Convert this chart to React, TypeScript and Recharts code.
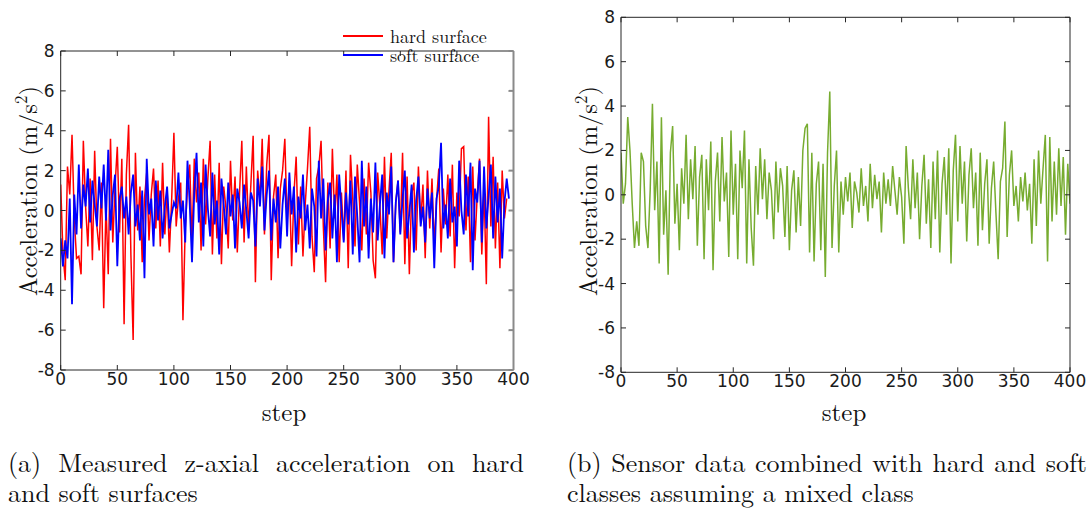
import { LineChart, Line, XAxis, YAxis, Legend } from "recharts";

// sampled every 2 steps
const STEP = 2;

const hardSurface = [
  1.3, -2.2, -3.5, 2.2, 0.8, 3.8, -0.4, -2.4, -2.3, -3.2,
  3.5, 0.2, -1.8, 1.6, -2.5, 3.0, -0.8, -2.0, 1.4, -4.9,
  0.3, -3.2, 3.6, -1.6, 1.2, 3.2, -1.1, 2.6, -5.7, 1.8,
  4.3, -2.2, -6.5, 2.9, -1.0, 1.2, -2.6, 0.6, 1.9, -1.5,
  0.8, 2.1, -0.9, 1.5, -1.8, 2.4, -1.2, 1.0, -2.1, 0.5,
  3.9, -0.8, 0.6, 1.4, -5.5, -0.9, 1.1, 2.3, -1.7, 2.6,
  0.4, 1.9, -2.0, 2.6, -0.7, 1.6, 3.5, -2.2, 1.8, -1.4,
  2.4, -2.7, 1.2, 0.1, -1.9, 2.5, -0.5, 1.7, -2.1, 0.9,
  3.5, -1.6, 2.2, -0.9, 1.3, 3.75, -3.6, 2.0, 0.5, 3.6,
  -1.2, 2.3, 3.8, -3.5, 0.7, 1.8, -2.4, 1.1, 2.0, 3.6,
  -0.6, 1.5, -2.8, 0.8, 2.7, -1.7, 1.2, -2.3, 0.3, 2.1,
  4.2, -1.3, -3.1, 1.6, 2.2, 3.5, -0.8, -3.6, 1.4, -1.9,
  3.1, -0.4, 1.8, -2.6, 0.9, -1.5, 2.0, -2.9, 2.8, 0.6,
  -1.8, 2.3, 0.4, -2.0, 1.6, -1.2, 2.4, 0.9, -2.5, -3.4,
  1.9, 0.2, -2.2, 2.7, -1.4, 1.0, 2.9, -2.6, 0.4, 1.5,
  -1.1, 2.9, -2.7, 1.7, -3.2, 0.8, 1.4, -2.0, 2.2, -0.6,
  1.3, -2.4, 2.0, -0.9, 1.6, -1.8, 0.5, 2.1, -2.1, 1.1,
  -0.7, 1.8, -1.3, 2.3, -2.9, 0.9, -0.3, 3.1, 3.2, -1.0,
  1.7, -2.6, 2.2, -1.5, 0.8, 2.6, -2.2, 1.2, -3.7, 4.7,
  -0.8, 2.7, -1.9, 1.4, -2.9, 2.0, -0.4, 0.6,
];

const softSurface = [
  -1.4, -2.8, -1.5, -2.4, 0.6, -4.7, 0.8, -1.2, 2.3, -0.9,
  1.3, 0.2, 2.1, -0.6, 1.5, 0.3, -0.8, 1.7, 0.1, 2.3,
  -0.5, 3.05, -1.0, 0.8, 1.8, -2.8, 0.6, 1.2, -0.4, 0.7,
  -1.2, 0.9, 1.8, -0.8, 0.3, -1.5, 1.0, -3.4, 2.6, -0.2,
  0.6, -1.8, 1.5, -0.5, 1.0, -1.4, 0.2, 1.2, -0.9, -0.2,
  0.4, 0.1, 1.9, -0.4, 0.5, -1.6, 2.5, 0.3, -2.6, 0.9,
  2.9, -0.6, 1.4, -1.8, 2.3, 0.1, -1.3, 1.9, -0.7, 0.5,
  -2.2, 1.6, 0.3, -1.2, 1.4, -0.3, 0.8, -1.9, 1.1, 0.4,
  -0.9, 1.3, 0.0, -1.4, 0.9, 0.5, -1.8, 1.6, 0.2, 2.2,
  -1.0, 0.8, 2.0, -1.5, 0.6, -0.6, 1.2, -1.9, 0.3, 1.6,
  -1.3, 1.9, -0.2, 1.2, -2.1, 0.7, -0.4, 1.8, -1.0, 0.3,
  -1.9, 1.1, 0.2, -2.3, 2.5, -0.4, 1.6, -2.0, 0.5, 1.4,
  -1.4, 0.8, -2.6, 1.8, 0.1, -1.6, 0.9, -0.7, 1.5, -2.2,
  1.7, -0.3, -2.6, 2.5, -0.8, 1.2, -2.4, 0.6, -1.1, 2.4,
  -1.5, 0.3, 1.8, -2.4, 0.9, -0.2, 2.2, -2.6, 0.4, 1.5,
  -1.2, 0.6, 2.0, -1.4, -0.1, 1.3, -2.1, 0.5, 1.7, -0.8,
  0.2, -1.6, 1.1, -0.4, 0.9, -2.9, 0.6, 1.2, 3.4, -0.9,
  0.3, -1.4, 1.6, -0.6, 0.2, -1.8, 2.5, 0.0, -1.2, 1.8,
  -0.3, 2.4, -3.0, 1.1, 0.4, 2.5, -1.6, 2.2, -0.9, 0.7,
  2.3, -1.4, 1.7, -0.6, 1.1, -2.4, 0.4, 1.6, 0.6,
];

const mixedClass = [
  1.9, -0.4, 0.5, 3.5, 2.0, -0.4, -2.4, -1.2, -2.3, 1.9,
  1.5, -1.4, -2.4, 0.2, 4.1, -0.7, 1.5, -3.1, 3.5, -1.8,
  0.2, -3.6, 1.9, 3.1, -1.3, 0.5, -2.5, 1.2, -0.4, 2.7,
  -1.1, 1.6, -0.2, 2.2, -2.3, 0.8, 1.8, -2.9, 1.6, -0.7,
  2.4, -3.4, 0.6, 1.9, -1.2, 2.6, -0.3, 1.0, -2.8, 2.9,
  -0.9, 1.4, -2.9, 2.0, 0.3, 2.9, -3.1, 1.6, -1.5, -3.2,
  1.3, -0.9, 2.1, -0.2, 1.6, -1.1, 1.0, 0.2, -2.0, 1.5,
  -0.8, 1.2, 0.4, -1.9, 1.3, -2.5, 0.2, 1.1, -1.7, 0.8,
  -1.4, 2.0, 3.0, 3.2, -2.6, 1.9, -3.0, 0.5, 1.5, -2.5,
  1.4, -3.7, 1.9, 4.65, -2.4, 0.4, 2.0, -2.6, 0.6, -0.9,
  0.8, -0.3, 1.0, -1.5, 0.6, 0.1, -0.8, 1.2, -0.5, 0.4,
  -1.2, 1.4, -0.6, 0.9, -0.2, 0.6, -1.7, 1.0, -0.4, 0.7,
  -0.5, 1.3, 0.2, -0.9, 0.8, -0.1, -2.2, 2.2, 0.3, -1.1,
  1.6, -0.6, 1.0, -2.0, 0.4, 1.8, -1.3, 0.7, -2.4, 1.5,
  -1.1, 2.0, -2.6, 0.5, 1.7, -0.9, 2.1, -3.1, 1.1, 2.7,
  -1.2, 2.2, -0.4, 1.5, -2.1, 0.9, 2.1, -0.6, 1.0, -2.3,
  1.9, -1.6, 0.5, 1.6, -2.2, 0.3, 1.5, -0.8, -2.9, 0.6,
  1.2, 3.3, -1.9, 0.9, 2.0, -0.5, 0.4, -1.2, 0.8, -0.3,
  1.0, -0.7, 0.5, -2.2, 1.6, -1.4, 2.0, -0.4, 1.2, 2.7,
  -3.0, 2.6, -1.2, 1.5, -0.9, 2.1, -0.5, 1.7, -1.8, 1.4, -0.4,
];

const xTicks = [0, 50, 100, 150, 200, 250, 300, 350, 400];
const yTicks = [-8, -6, -4, -2, 0, 2, 4, 6, 8];

const toRows = (vals: number[]) => vals.map((v, i) => ({ step: i * STEP, v }));

const serif = '"Latin Modern Roman", serif';
const tickFont = { fill: "#1a1a1a", fontSize: 17, fontFamily: '"DejaVu Sans", sans-serif' };
const AXIS = "#262626";
const noTick = () => <g />;

// swatches in one column, names in one text block (19px rows)
const LegendBox = (props: any) => {
  const items = (props.payload || []).filter((p: any) => p.type !== "none");
  return (
    <div style={{ display: "flex", fontFamily: serif, fontSize: 18, lineHeight: "19px", color: "#111" }}>
      <div style={{ width: 40, marginRight: 7 }}>
        {items.map((p: any) => (
          <div key={p.value} style={{ height: 19, display: "flex", alignItems: "center" }}>
            <span style={{ width: 40, height: 2, background: p.color }} />
          </div>
        ))}
      </div>
      <div style={{ whiteSpace: "pre" }}>{items.map((p: any) => p.value).join("\n")}</div>
    </div>
  );
};

const axisFrame = (rightColor: string) => [
  <XAxis
    key="xb"
    type="number"
    dataKey="step"
    domain={[0, 400]}
    ticks={xTicks}
    interval={0}
    allowDataOverflow
    tickSize={-5}
    tickMargin={8}
    height={30}
    stroke={AXIS}
    tick={tickFont}
  />,
  <XAxis
    key="xt"
    xAxisId="top"
    orientation="top"
    type="number"
    dataKey="step"
    domain={[0, 400]}
    ticks={xTicks}
    interval={0}
    allowDataOverflow
    tickSize={-5}
    height={1}
    stroke={AXIS}
    tick={noTick}
  />,
  <YAxis
    key="yl"
    type="number"
    domain={[-8, 8]}
    ticks={yTicks}
    interval={0}
    allowDataOverflow
    tickSize={-5}
    tickMargin={11}
    width={50}
    stroke={AXIS}
    tick={tickFont}
  />,
  <YAxis
    key="yr"
    yAxisId="right"
    orientation="right"
    type="number"
    domain={[-8, 8]}
    ticks={yTicks}
    interval={0}
    allowDataOverflow
    tickSize={-5}
    width={1}
    stroke={rightColor}
    strokeWidth={rightColor === AXIS ? 1 : 2}
    tick={noTick}
  />,
];

// invisible copy of a series so the top / right frame axes get drawn
const frameLine = (vals: number[]) => (
  <Line
    data={toRows(vals)}
    dataKey="v"
    xAxisId="top"
    yAxisId="right"
    stroke="none"
    legendType="none"
    dot={false}
    activeDot={false}
    isAnimationActive={false}
  />
);

const YLabel = ({ x }: { x: number }) => (
  <div
    style={{
      position: "absolute",
      left: x,
      top: 191,
      transform: "translate(-50%, -50%) rotate(-90deg)",
      whiteSpace: "nowrap",
      fontFamily: serif,
      fontSize: 24.5,
      color: "#111",
    }}
  >
    Acceleration (m/s<sup style={{ fontSize: 17, verticalAlign: "10px", lineHeight: 0 }}>2</sup>)
  </div>
);

const XLabel = ({ x }: { x: number }) => (
  <div
    style={{
      position: "absolute",
      left: x,
      top: 410,
      transform: "translate(-50%, -50%)",
      fontFamily: serif,
      fontSize: 25,
      color: "#111",
    }}
  >
    step
  </div>
);

const caption: React.CSSProperties = {
  position: "absolute",
  top: 447,
  fontFamily: serif,
  fontSize: 26,
  lineHeight: "30px",
  color: "#111",
  textAlign: "justify",
};

export default function App() {
  return (
    <div style={{ position: "absolute", left: 0, top: 0, width: 1089, height: 509, background: "#fff" }}>
      <div style={{ position: "absolute", left: 0, top: 0 }}>
        <LineChart width={530} height={420} margin={{ top: 12, right: 15.5, bottom: 20, left: 10.7 }}>
          {axisFrame("#8a8a8a")}
          <Legend
            verticalAlign="top"
            align="right"
            content={<LegendBox />}
            wrapperStyle={{ left: 343, top: 26, width: 160 }}
          />
          {frameLine(hardSurface)}
          <Line
            data={toRows(hardSurface)}
            dataKey="v"
            name="hard surface"
            stroke="#ff0000"
            strokeWidth={1.5}
            dot={false}
            isAnimationActive={false}
          />
          <Line
            data={toRows(softSurface)}
            dataKey="v"
            name="soft surface"
            stroke="#0000ff"
            strokeWidth={1.8}
            dot={false}
            isAnimationActive={false}
          />
        </LineChart>
        <YLabel x={26} />
        <XLabel x={284} />
      </div>

      <div style={{ position: "absolute", left: 560, top: 0, width: 529, height: 440 }}>
        <LineChart width={529} height={420} margin={{ top: 16.3, right: 18, bottom: 17.7, left: 11 }}>
          {axisFrame(AXIS)}
          {frameLine(mixedClass)}
          <Line
            data={toRows(mixedClass)}
            dataKey="v"
            name="mixed class"
            stroke="#77ac30"
            strokeWidth={1.5}
            dot={false}
            isAnimationActive={false}
          />
        </LineChart>
        <YLabel x={26} />
        <XLabel x={284} />
      </div>

      <div style={{ ...caption, left: 8, width: 516 }}>
        (a) Measured z-axial acceleration on hard <span style={{ whiteSpace: "nowrap" }}>and soft</span> surfaces
      </div>
      <div style={{ ...caption, left: 567, width: 520 }}>
        (b) Sensor data combined with hard and soft classes assuming a mixed class
      </div>
    </div>
  );
}
